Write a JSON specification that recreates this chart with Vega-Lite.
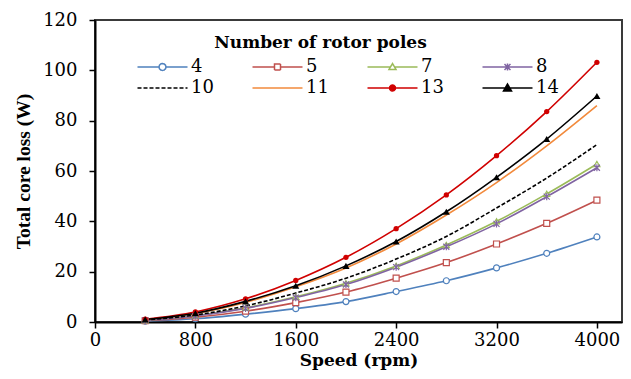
{
  "$schema": "https://vega.github.io/schema/vega-lite/v6.json",
  "autosize": "none",
  "width": 527,
  "height": 302,
  "padding": {"left": 95, "top": 20, "right": 9, "bottom": 57},
  "background": "white",
  "config": {
    "view": {"stroke": "#3a3a3a", "strokeWidth": 2},
    "font": "DejaVu Serif",
    "axis": {
      "labelFont": "DejaVu Serif", "labelFontSize": 18, "labelColor": "black",
      "titleFont": "DejaVu Serif", "titleFontSize": 17, "titleFontWeight": "bold", "titleColor": "black",
      "tickColor": "black", "domainColor": "black", "domainWidth": 2, "tickWidth": 1.5, "tickSize": 6, "grid": false
    }
  },
  "data": {
    "values": [
      {"poles": "4", "speed": 400, "loss": 0.35}, {"poles": "4", "speed": 800, "loss": 1.3}, {"poles": "4", "speed": 1200, "loss": 3.1}, {"poles": "4", "speed": 1600, "loss": 5.3}, {"poles": "4", "speed": 2000, "loss": 8.1}, {"poles": "4", "speed": 2400, "loss": 12.1}, {"poles": "4", "speed": 2800, "loss": 16.4}, {"poles": "4", "speed": 3200, "loss": 21.5}, {"poles": "4", "speed": 3600, "loss": 27.3}, {"poles": "4", "speed": 4000, "loss": 33.8},
      {"poles": "5", "speed": 400, "loss": 0.5}, {"poles": "5", "speed": 800, "loss": 1.9}, {"poles": "5", "speed": 1200, "loss": 4.3}, {"poles": "5", "speed": 1600, "loss": 7.7}, {"poles": "5", "speed": 2000, "loss": 11.9}, {"poles": "5", "speed": 2400, "loss": 17.4}, {"poles": "5", "speed": 2800, "loss": 23.6}, {"poles": "5", "speed": 3200, "loss": 31.0}, {"poles": "5", "speed": 3600, "loss": 39.2}, {"poles": "5", "speed": 4000, "loss": 48.4},
      {"poles": "7", "speed": 400, "loss": 0.7}, {"poles": "7", "speed": 800, "loss": 2.5}, {"poles": "7", "speed": 1200, "loss": 5.6}, {"poles": "7", "speed": 1600, "loss": 10.0}, {"poles": "7", "speed": 2000, "loss": 15.4}, {"poles": "7", "speed": 2400, "loss": 22.3}, {"poles": "7", "speed": 2800, "loss": 30.6}, {"poles": "7", "speed": 3200, "loss": 40.0}, {"poles": "7", "speed": 3600, "loss": 50.9}, {"poles": "7", "speed": 4000, "loss": 62.8},
      {"poles": "8", "speed": 400, "loss": 0.65}, {"poles": "8", "speed": 800, "loss": 2.4}, {"poles": "8", "speed": 1200, "loss": 5.4}, {"poles": "8", "speed": 1600, "loss": 9.7}, {"poles": "8", "speed": 2000, "loss": 14.9}, {"poles": "8", "speed": 2400, "loss": 21.8}, {"poles": "8", "speed": 2800, "loss": 29.9}, {"poles": "8", "speed": 3200, "loss": 39.0}, {"poles": "8", "speed": 3600, "loss": 49.8}, {"poles": "8", "speed": 4000, "loss": 61.3},
      {"poles": "10", "speed": 400, "loss": 0.8}, {"poles": "10", "speed": 800, "loss": 2.8}, {"poles": "10", "speed": 1200, "loss": 6.4}, {"poles": "10", "speed": 1600, "loss": 11.5}, {"poles": "10", "speed": 2000, "loss": 17.4}, {"poles": "10", "speed": 2400, "loss": 25.0}, {"poles": "10", "speed": 2800, "loss": 34.0}, {"poles": "10", "speed": 3200, "loss": 45.3}, {"poles": "10", "speed": 3600, "loss": 57.2}, {"poles": "10", "speed": 4000, "loss": 70.5},
      {"poles": "11", "speed": 400, "loss": 0.95}, {"poles": "11", "speed": 800, "loss": 3.4}, {"poles": "11", "speed": 1200, "loss": 7.8}, {"poles": "11", "speed": 1600, "loss": 14.0}, {"poles": "11", "speed": 2000, "loss": 21.5}, {"poles": "11", "speed": 2400, "loss": 31.0}, {"poles": "11", "speed": 2800, "loss": 42.5}, {"poles": "11", "speed": 3200, "loss": 55.4}, {"poles": "11", "speed": 3600, "loss": 70.0}, {"poles": "11", "speed": 4000, "loss": 86.0},
      {"poles": "13", "speed": 400, "loss": 1.1}, {"poles": "13", "speed": 800, "loss": 4.0}, {"poles": "13", "speed": 1200, "loss": 9.2}, {"poles": "13", "speed": 1600, "loss": 16.5}, {"poles": "13", "speed": 2000, "loss": 25.7}, {"poles": "13", "speed": 2400, "loss": 37.1}, {"poles": "13", "speed": 2800, "loss": 50.5}, {"poles": "13", "speed": 3200, "loss": 66.1}, {"poles": "13", "speed": 3600, "loss": 83.6}, {"poles": "13", "speed": 4000, "loss": 103.2},
      {"poles": "14", "speed": 400, "loss": 1.0}, {"poles": "14", "speed": 800, "loss": 3.5}, {"poles": "14", "speed": 1200, "loss": 8.2}, {"poles": "14", "speed": 1600, "loss": 14.4}, {"poles": "14", "speed": 2000, "loss": 22.3}, {"poles": "14", "speed": 2400, "loss": 32.0}, {"poles": "14", "speed": 2800, "loss": 43.8}, {"poles": "14", "speed": 3200, "loss": 57.5}, {"poles": "14", "speed": 3600, "loss": 72.7}, {"poles": "14", "speed": 4000, "loss": 89.8}
    ]
  },
  "encoding": {
    "x": {"field": "speed", "type": "quantitative", "title": "Speed (rpm)",
      "scale": {"domain": [0, 4200], "nice": false},
      "axis": {"values": [0, 800, 1600, 2400, 3200, 4000], "format": "d", "labelPadding": 3, "titlePadding": 3, "labelFlush": false}},
    "y": {"field": "loss", "type": "quantitative", "title": "Total core loss (W)",
      "scale": {"domain": [0, 120], "nice": false},
      "axis": {"values": [0, 20, 40, 60, 80, 100, 120], "format": "d", "labelPadding": 12, "titlePadding": 9,
               "titleFont": "Liberation Serif", "titleFontSize": 19.5}}
  },
  "layer": [
    {
      "transform": [{"filter": {"not": {"field": "poles", "equal": "10"}}}],
      "mark": {"type": "line", "interpolate": "monotone", "strokeWidth": 1.6},
      "encoding": {
        "color": {"field": "poles", "type": "nominal",
          "scale": {"domain": ["4", "5", "7", "8", "10", "11", "13", "14"],
                    "range": ["#4F81BD", "#C0504D", "#9BBB59", "#8064A2", "#000000", "#F28A3C", "#D00000", "#000000"]},
          "legend": {
            "orient": "none", "legendX": 56.5, "legendY": 15, "direction": "horizontal", "columns": 4,
            "padding": 0, "symbolSize": 400, "symbolStrokeWidth": 1.5,
            "title": "Number of rotor poles", "titleFont": "DejaVu Serif", "titleFontSize": 17, "titleLimit": 500,
            "titleFontWeight": "bold", "titleColor": "black", "titleAnchor": "middle", "titlePadding": 4,
            "labelFont": "DejaVu Serif", "labelFontSize": 18, "labelColor": "black", "labelOffset": 17.5,
            "rowPadding": 1, "columnPadding": 35,
            "encode": {
              "title": {"update": {"dx": {"value": -35}}},
              "symbols": {
                "update": {
                  "shape": {"signal": "datum.value === '4' ? 'M-2.5,0L-0.35,0M0.35,0L2.5,0M0.35,0L0.303,0.175L0.175,0.303L0,0.35L-0.175,0.303L-0.303,0.175L-0.35,0L-0.303,-0.175L-0.175,-0.303L0,-0.35L0.175,-0.303L0.303,-0.175Z' : datum.value === '5' ? 'M-2.5,0L-0.3,0M0.3,0L2.5,0M-0.3,-0.3L0.3,-0.3L0.3,0.3L-0.3,0.3Z' : datum.value === '7' ? 'M-2.5,0L-0.2,0M0.2,0L2.5,0M0,-0.35L0.35,0.25L-0.35,0.25Z' : datum.value === '8' ? 'M-2.5,0L2.5,0M-0.3,-0.3L0.3,0.3M-0.3,0.3L0.3,-0.3M0,-0.35L0,0.35' : datum.value === '13' ? 'M-2.5,0L2.5,0M0.3,0L0.26,0.15L0.15,0.26L0,0.3L-0.15,0.26L-0.26,0.15L-0.3,0L-0.26,-0.15L-0.15,-0.26L0,-0.3L0.15,-0.26L0.26,-0.15Z' : datum.value === '14' ? 'M-2.5,0L2.5,0M0,-0.4L0.4,0.3L-0.4,0.3Z' : 'M-2.5,0L2.5,0'"},
                  "strokeDash": {"signal": "datum.value === '10' ? [4, 2] : [1, 0]"},
                  "fill": {"signal": "datum.value === '13' ? '#D00000' : datum.value === '14' ? '#000000' : 'white'"},
                  "fillOpacity": {"value": 1},
                  "strokeWidth": {"value": 1.5}
                }
              }
            }
          }}
      }
    },
    {
      "transform": [{"filter": {"field": "poles", "equal": "10"}}],
      "mark": {"type": "line", "interpolate": "monotone", "strokeWidth": 1.6, "strokeDash": [4, 2]},
      "encoding": {
        "color": {"field": "poles", "type": "nominal", "legend": null}
      }
    },
    {
      "transform": [{"filter": {"field": "poles", "oneOf": ["4", "5", "7", "8"]}}],
      "mark": {"type": "point", "filled": false, "fill": "white", "fillOpacity": 1, "size": 36, "strokeWidth": 1.2, "opacity": 1},
      "encoding": {
        "stroke": {"field": "poles", "type": "nominal", "legend": null,
          "scale": {"range": ["#4F81BD", "#C0504D", "#9BBB59", "#8064A2"]}},
        "shape": {"field": "poles", "type": "nominal", "legend": null,
          "scale": {"range": ["circle", "triangle-up", "circle", "square", "triangle-up", "M-1,-1L1,1M-1,1L1,-1M0,-1.2L0,1.2"]}}
      }
    },
    {
      "transform": [{"filter": {"field": "poles", "equal": "13"}}],
      "mark": {"type": "point", "filled": true, "size": 28, "opacity": 1},
      "encoding": {
        "fill": {"field": "poles", "type": "nominal", "legend": null,
          "scale": {"range": ["#D00000", "#000000"]}},
        "shape": {"field": "poles", "type": "nominal", "legend": null}
      }
    },
    {
      "transform": [{"filter": {"field": "poles", "equal": "14"}}],
      "mark": {"type": "point", "filled": true, "size": 50, "opacity": 1},
      "encoding": {
        "fill": {"field": "poles", "type": "nominal", "legend": null},
        "shape": {"field": "poles", "type": "nominal", "legend": null}
      }
    }
  ]
}
